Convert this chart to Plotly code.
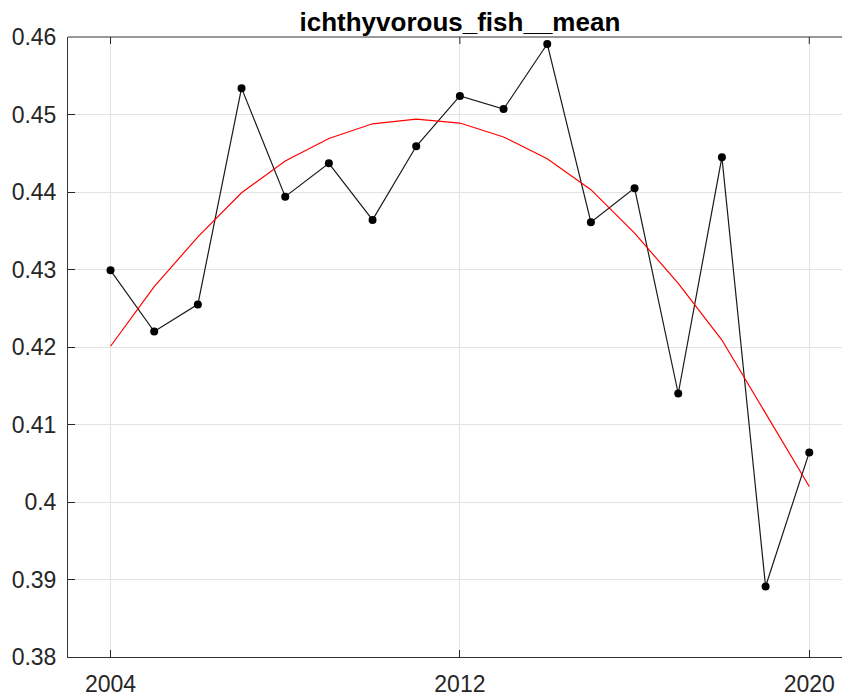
import plotly.graph_objects as go

# Yearly series and its quadratic trend
years = list(range(2004, 2021))
mean_values = [0.4299, 0.4220, 0.4255, 0.4534, 0.4394, 0.4437, 0.4364, 0.4459,
               0.4524, 0.4507, 0.4591, 0.4361, 0.4405, 0.4140, 0.4445, 0.3891, 0.4064]
trend_values = [0.4201, 0.4278, 0.4342, 0.4399, 0.4440, 0.4469, 0.4488, 0.4494,
                0.4489, 0.4471, 0.4443, 0.4403, 0.4347, 0.4282, 0.4209, 0.4114, 0.4020]

x_ticks = [2004, 2012, 2020]
y_ticks = [0.38, 0.39, 0.40, 0.41, 0.42, 0.43, 0.44, 0.45, 0.46]
y_tick_labels = ["0.38", "0.39", "0.4", "0.41", "0.42", "0.43", "0.44", "0.45", "0.46"]

title_text = "ichthyvorous_fish__mean"

fig = go.Figure()
fig.add_trace(go.Scatter(
    x=years, y=mean_values, mode="lines+markers",
    line=dict(color="#1a1a1a", width=1.2),
    marker=dict(color="black", size=8),
    showlegend=False,
))
fig.add_trace(go.Scatter(
    x=years, y=trend_values, mode="lines",
    line=dict(color="#ff0000", width=1.2),
    showlegend=False,
))

axis_font = dict(family="Liberation Sans, Arial, sans-serif", size=23, color="#262626")

# Top border of the axes box, with short inward ticks at the x tick positions
fig.add_shape(type="line", xref="paper", yref="paper", x0=0, x1=1, y0=1, y1=1,
              line=dict(color="#333333", width=1))
for t in x_ticks:
    fig.add_shape(type="line", xref="x", yref="paper", x0=t, x1=t, y0=1, y1=1 - 7 / 620,
                  line=dict(color="#262626", width=1))

fig.update_layout(
    width=842, height=696,
    margin=dict(l=68, r=0, t=37, b=39),
    paper_bgcolor="white", plot_bgcolor="white",
    title=dict(text="<b>" + title_text + "</b>", x=459.9 / 842, xanchor="center",
               y=1 - 22 / 696, yanchor="middle",
               font=dict(family="Liberation Sans, Arial, sans-serif", size=26, color="black")),
)
fig.update_xaxes(
    range=[2003.026, 2020.75], tickvals=x_ticks, ticktext=[str(v) for v in x_ticks],
    ticks="inside", ticklen=7, tickcolor="#262626", tickwidth=1,
    showline=True, linecolor="#333333", linewidth=1, mirror=False,
    showgrid=True, gridcolor="#e3e3e3", gridwidth=1, zeroline=False,
    tickfont=axis_font, ticklabelstandoff=6,
)
fig.update_yaxes(
    range=[0.38, 0.46], tickvals=y_ticks, ticktext=y_tick_labels,
    ticks="inside", ticklen=7, tickcolor="#262626", tickwidth=1,
    showline=True, linecolor="#333333", linewidth=1, mirror=False,
    showgrid=True, gridcolor="#e3e3e3", gridwidth=1, zeroline=False,
    tickfont=axis_font, ticklabelstandoff=6,
)

fig.write_html("out.html")
